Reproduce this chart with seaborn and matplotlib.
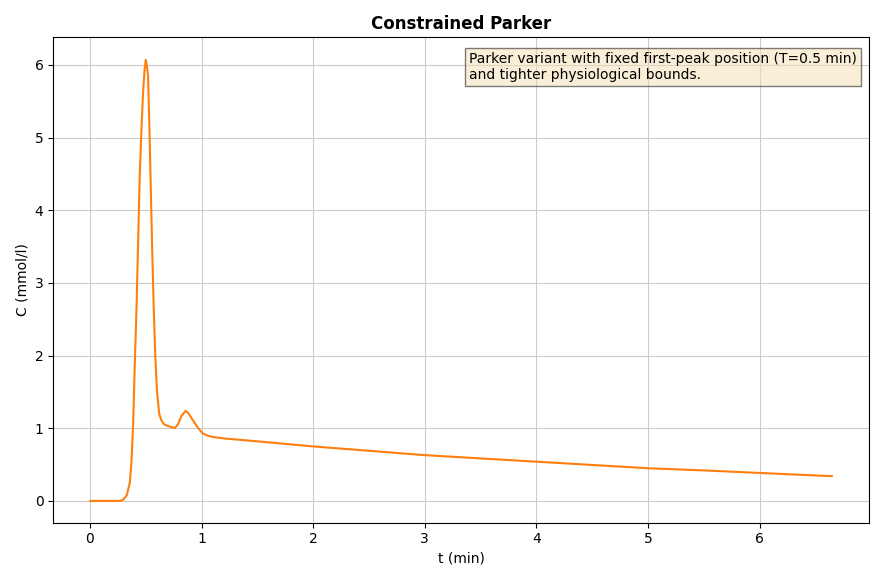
import matplotlib
matplotlib.use("Agg")
import matplotlib.pyplot as plt
import seaborn as sns

# values
t_min = [0.0, 0.1, 0.2, 0.27, 0.30, 0.33, 0.357, 0.372, 0.387, 0.40, 0.417, 0.432, 0.446,
         0.462, 0.476, 0.49, 0.50, 0.51, 0.52, 0.53, 0.542, 0.556, 0.571, 0.585, 0.60,
         0.62, 0.64, 0.66, 0.685, 0.72, 0.76, 0.79, 0.82, 0.857, 0.88, 0.91, 0.94,
         0.97, 1.01, 1.05, 1.10, 1.2, 1.5, 2.0, 2.5, 3.0, 3.5, 4.0, 4.5, 5.0, 5.5,
         6.0, 6.65]
conc = [0.0, 0.0, 0.0, 0.0, 0.02, 0.08, 0.25, 0.55, 1.07, 1.8, 2.66, 3.6, 4.49,
        5.15, 5.63, 5.95, 6.07, 5.98, 5.86, 5.3, 4.49, 3.55, 2.66, 2.0, 1.52,
        1.2, 1.11, 1.06, 1.04, 1.02, 1.0, 1.06, 1.17, 1.24, 1.21, 1.14, 1.07,
        1.0, 0.93, 0.9, 0.88, 0.86, 0.82, 0.75, 0.69, 0.63, 0.585, 0.54, 0.495, 0.45, 0.42,
        0.385, 0.34]

sns.set_style("whitegrid", {"axes.edgecolor": "black", "grid.color": "#cccccc",
                            "text.color": "black", "xtick.color": "black",
                            "ytick.color": "black", "axes.labelcolor": "black"})
plt.rcParams['font.family'] = ['DejaVu Sans']

fig, ax = plt.subplots(figsize=(8.84, 5.81), dpi=100)
sns.lineplot(x=t_min, y=conc, ax=ax, color="#ff7f0e", linewidth=1.5)
ax.set_title("Constrained Parker", fontweight="bold", color="black")
ax.set_xlabel("t (min)")
ax.set_ylabel("C (mmol/l)")
ax.set_xlim(-0.33, 6.98)
ax.set_ylim(-0.3, 6.38)
ax.tick_params(left=True, bottom=True)
ax.text(0.985, 0.97, "Parker variant with fixed first-peak position (T=0.5 min)\nand tighter physiological bounds.",
        transform=ax.transAxes, ha="right", va="top", fontsize=10, color="black",
        multialignment="left",
        bbox=dict(boxstyle="square", facecolor="wheat", edgecolor="black", alpha=0.5))
plt.tight_layout()
plt.savefig("out.png", dpi=100)
